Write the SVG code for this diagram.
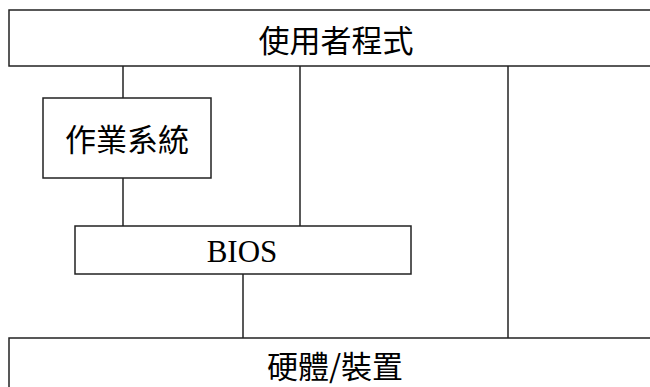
<svg xmlns="http://www.w3.org/2000/svg" width="650" height="387" viewBox="0 0 650 387">
<style>
.box{fill:#fff;stroke:#222;stroke-width:1.5}
.ln{stroke:#222;stroke-width:1.5;fill:none}
.cjk{font-family:"Noto Sans CJK TC","Noto Sans CJK SC",sans-serif;font-size:31px;font-weight:400;fill:#000;text-anchor:middle}
.lat{font-family:"Liberation Serif",serif;font-size:31px;fill:#000;text-anchor:middle}
</style>
<rect width="650" height="387" fill="#fff"/>
<g id="connectors">
<line class="ln" x1="123" y1="66" x2="123" y2="98"/>
<line class="ln" x1="300" y1="66" x2="300" y2="226"/>
<line class="ln" x1="508" y1="66" x2="508" y2="338"/>
<line class="ln" x1="123" y1="178" x2="123" y2="226"/>
<line class="ln" x1="243" y1="274" x2="243" y2="338"/>
</g>
<g id="user">
<rect class="box" x="9" y="10" width="650" height="56"/>
<text class="cjk" x="336" y="52">使用者程式</text>
</g>
<g id="os">
<rect class="box" x="43" y="98" width="168" height="80"/>
<text class="cjk" x="127" y="151">作業系統</text>
</g>
<g id="bios">
<rect class="box" x="75" y="226" width="336" height="48"/>
<text class="lat" x="242" y="262">BIOS</text>
</g>
<g id="hw">
<rect class="box" x="9" y="338" width="650" height="60"/>
<text class="cjk" x="335" y="378">硬體/裝置</text>
</g>
</svg>
